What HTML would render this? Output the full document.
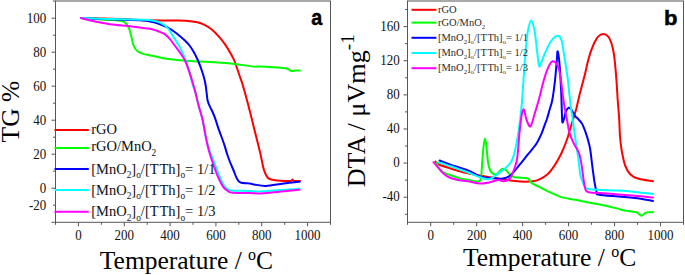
<!DOCTYPE html>
<html><head><meta charset="utf-8"><style>
html,body{margin:0;padding:0;background:#fff;}
svg{display:block;}
</style></head><body>
<svg width="685" height="275" viewBox="0 0 685 275">
<rect width="685" height="275" fill="#fff"/>
<rect x="55.5" y="1.0" width="275.0" height="221.3" fill="none" stroke="#555555" stroke-width="1"/>
<line x1="55.5" y1="222.3" x2="55.5" y2="224.8" stroke="#555555" stroke-width="1"/>
<line x1="78.42" y1="222.3" x2="78.42" y2="226.3" stroke="#555555" stroke-width="1"/>
<line x1="101.337" y1="222.3" x2="101.337" y2="224.8" stroke="#555555" stroke-width="1"/>
<line x1="124.254" y1="222.3" x2="124.254" y2="226.3" stroke="#555555" stroke-width="1"/>
<line x1="147.171" y1="222.3" x2="147.171" y2="224.8" stroke="#555555" stroke-width="1"/>
<line x1="170.08800000000002" y1="222.3" x2="170.08800000000002" y2="226.3" stroke="#555555" stroke-width="1"/>
<line x1="193.005" y1="222.3" x2="193.005" y2="224.8" stroke="#555555" stroke-width="1"/>
<line x1="215.92200000000003" y1="222.3" x2="215.92200000000003" y2="226.3" stroke="#555555" stroke-width="1"/>
<line x1="238.839" y1="222.3" x2="238.839" y2="224.8" stroke="#555555" stroke-width="1"/>
<line x1="261.75600000000003" y1="222.3" x2="261.75600000000003" y2="226.3" stroke="#555555" stroke-width="1"/>
<line x1="284.673" y1="222.3" x2="284.673" y2="224.8" stroke="#555555" stroke-width="1"/>
<line x1="307.59000000000003" y1="222.3" x2="307.59000000000003" y2="226.3" stroke="#555555" stroke-width="1"/>
<line x1="330.5" y1="222.3" x2="330.5" y2="224.8" stroke="#555555" stroke-width="1"/>
<line x1="51.5" y1="18.2" x2="55.5" y2="18.2" stroke="#555555" stroke-width="1"/>
<line x1="51.5" y1="52.2" x2="55.5" y2="52.2" stroke="#555555" stroke-width="1"/>
<line x1="51.5" y1="86.2" x2="55.5" y2="86.2" stroke="#555555" stroke-width="1"/>
<line x1="51.5" y1="120.2" x2="55.5" y2="120.2" stroke="#555555" stroke-width="1"/>
<line x1="51.5" y1="154.2" x2="55.5" y2="154.2" stroke="#555555" stroke-width="1"/>
<line x1="51.5" y1="188.2" x2="55.5" y2="188.2" stroke="#555555" stroke-width="1"/>
<line x1="51.5" y1="222.3" x2="55.5" y2="222.3" stroke="#555555" stroke-width="1"/>
<line x1="53.0" y1="1.0" x2="55.5" y2="1.0" stroke="#555555" stroke-width="1"/>
<line x1="53.0" y1="35.2" x2="55.5" y2="35.2" stroke="#555555" stroke-width="1"/>
<line x1="53.0" y1="69.2" x2="55.5" y2="69.2" stroke="#555555" stroke-width="1"/>
<line x1="53.0" y1="103.2" x2="55.5" y2="103.2" stroke="#555555" stroke-width="1"/>
<line x1="53.0" y1="137.2" x2="55.5" y2="137.2" stroke="#555555" stroke-width="1"/>
<line x1="53.0" y1="171.2" x2="55.5" y2="171.2" stroke="#555555" stroke-width="1"/>
<line x1="53.0" y1="205.2" x2="55.5" y2="205.2" stroke="#555555" stroke-width="1"/>
<rect x="407.5" y="1.0" width="276.0" height="221.3" fill="none" stroke="#555555" stroke-width="1"/>
<line x1="407.5" y1="222.3" x2="407.5" y2="224.8" stroke="#555555" stroke-width="1"/>
<line x1="430.7" y1="222.3" x2="430.7" y2="226.3" stroke="#555555" stroke-width="1"/>
<line x1="453.68" y1="222.3" x2="453.68" y2="224.8" stroke="#555555" stroke-width="1"/>
<line x1="476.65999999999997" y1="222.3" x2="476.65999999999997" y2="226.3" stroke="#555555" stroke-width="1"/>
<line x1="499.64" y1="222.3" x2="499.64" y2="224.8" stroke="#555555" stroke-width="1"/>
<line x1="522.62" y1="222.3" x2="522.62" y2="226.3" stroke="#555555" stroke-width="1"/>
<line x1="545.6" y1="222.3" x2="545.6" y2="224.8" stroke="#555555" stroke-width="1"/>
<line x1="568.5799999999999" y1="222.3" x2="568.5799999999999" y2="226.3" stroke="#555555" stroke-width="1"/>
<line x1="591.56" y1="222.3" x2="591.56" y2="224.8" stroke="#555555" stroke-width="1"/>
<line x1="614.54" y1="222.3" x2="614.54" y2="226.3" stroke="#555555" stroke-width="1"/>
<line x1="637.52" y1="222.3" x2="637.52" y2="224.8" stroke="#555555" stroke-width="1"/>
<line x1="660.5" y1="222.3" x2="660.5" y2="226.3" stroke="#555555" stroke-width="1"/>
<line x1="683.5" y1="222.3" x2="683.5" y2="224.8" stroke="#555555" stroke-width="1"/>
<line x1="403.5" y1="26.620000000000005" x2="407.5" y2="26.620000000000005" stroke="#555555" stroke-width="1"/>
<line x1="403.5" y1="60.739999999999995" x2="407.5" y2="60.739999999999995" stroke="#555555" stroke-width="1"/>
<line x1="403.5" y1="94.86" x2="407.5" y2="94.86" stroke="#555555" stroke-width="1"/>
<line x1="403.5" y1="128.98" x2="407.5" y2="128.98" stroke="#555555" stroke-width="1"/>
<line x1="403.5" y1="163.1" x2="407.5" y2="163.1" stroke="#555555" stroke-width="1"/>
<line x1="403.5" y1="197.22" x2="407.5" y2="197.22" stroke="#555555" stroke-width="1"/>
<line x1="405.0" y1="9.560000000000002" x2="407.5" y2="9.560000000000002" stroke="#555555" stroke-width="1"/>
<line x1="405.0" y1="43.67999999999999" x2="407.5" y2="43.67999999999999" stroke="#555555" stroke-width="1"/>
<line x1="405.0" y1="77.8" x2="407.5" y2="77.8" stroke="#555555" stroke-width="1"/>
<line x1="405.0" y1="111.91999999999999" x2="407.5" y2="111.91999999999999" stroke="#555555" stroke-width="1"/>
<line x1="405.0" y1="146.04" x2="407.5" y2="146.04" stroke="#555555" stroke-width="1"/>
<line x1="405.0" y1="180.16" x2="407.5" y2="180.16" stroke="#555555" stroke-width="1"/>
<line x1="405.0" y1="214.28" x2="407.5" y2="214.28" stroke="#555555" stroke-width="1"/>
<g font-family="Liberation Serif, serif" font-size="13" fill="#111"><text transform="translate(46.3,22.8) scale(1,1.1)" text-anchor="end">100</text>
<text transform="translate(46.3,56.8) scale(1,1.1)" text-anchor="end">80</text>
<text transform="translate(46.3,90.8) scale(1,1.1)" text-anchor="end">60</text>
<text transform="translate(46.3,124.8) scale(1,1.1)" text-anchor="end">40</text>
<text transform="translate(46.3,158.8) scale(1,1.1)" text-anchor="end">20</text>
<text transform="translate(46.3,192.8) scale(1,1.1)" text-anchor="end">0</text>
<text transform="translate(46.3,209.8) scale(1,1.1)" text-anchor="end">-20</text>
<text transform="translate(78.4,240.2) scale(1,1.1)" text-anchor="middle">0</text>
<text transform="translate(124.3,240.2) scale(1,1.1)" text-anchor="middle">200</text>
<text transform="translate(170.1,240.2) scale(1,1.1)" text-anchor="middle">400</text>
<text transform="translate(215.9,240.2) scale(1,1.1)" text-anchor="middle">600</text>
<text transform="translate(261.8,240.2) scale(1,1.1)" text-anchor="middle">800</text>
<text transform="translate(307.6,240.2) scale(1,1.1)" text-anchor="middle">1000</text>
<text transform="translate(399.8,30.7) scale(1,1.1)" text-anchor="end">160</text>
<text transform="translate(399.8,64.8) scale(1,1.1)" text-anchor="end">120</text>
<text transform="translate(399.8,99.0) scale(1,1.1)" text-anchor="end">80</text>
<text transform="translate(399.8,133.1) scale(1,1.1)" text-anchor="end">40</text>
<text transform="translate(399.8,167.2) scale(1,1.1)" text-anchor="end">0</text>
<text transform="translate(399.8,201.3) scale(1,1.1)" text-anchor="end">-40</text>
<text transform="translate(430.7,240.2) scale(1,1.1)" text-anchor="middle">0</text>
<text transform="translate(476.7,240.2) scale(1,1.1)" text-anchor="middle">200</text>
<text transform="translate(522.6,240.2) scale(1,1.1)" text-anchor="middle">400</text>
<text transform="translate(568.6,240.2) scale(1,1.1)" text-anchor="middle">600</text>
<text transform="translate(614.5,240.2) scale(1,1.1)" text-anchor="middle">800</text>
<text transform="translate(660.5,240.2) scale(1,1.1)" text-anchor="middle">1000</text></g>
<path d="M81.00,18.00 C87.50,18.17 108.50,18.62 120.00,19.00 C131.50,19.38 140.83,20.05 150.00,20.30 C159.17,20.55 169.00,20.42 175.00,20.50 C181.00,20.58 182.28,20.50 186.00,20.80 C189.72,21.10 194.22,21.62 197.30,22.30 C200.38,22.98 202.08,23.70 204.50,24.90 C206.92,26.10 209.37,27.52 211.80,29.50 C214.23,31.48 216.92,34.37 219.10,36.80 C221.28,39.23 222.95,41.28 224.90,44.10 C226.85,46.92 229.20,50.88 230.80,53.70 C232.40,56.52 233.05,57.37 234.50,61.00 C235.95,64.63 238.17,71.62 239.50,75.50 C240.83,79.38 241.08,79.55 242.50,84.30 C243.92,89.05 246.08,96.72 248.00,104.00 C249.92,111.28 252.00,120.00 254.00,128.00 C256.00,136.00 258.33,145.00 260.00,152.00 C261.67,159.00 262.67,165.67 264.00,170.00 C265.33,174.33 266.33,176.33 268.00,178.00 C269.67,179.67 272.00,179.53 274.00,180.00 C276.00,180.47 277.25,180.63 280.00,180.80 C282.75,180.97 288.43,181.20 290.50,181.00 C292.57,180.80 291.82,179.60 292.40,179.60 C292.98,179.60 292.73,180.77 294.00,181.00 C295.27,181.23 299.00,181.00 300.00,181.00" fill="none" stroke="#ff0000" stroke-width="2.0" stroke-linejoin="round" stroke-linecap="round"/>
<path d="M81.00,18.00 C84.17,18.23 94.33,19.02 100.00,19.40 C105.67,19.78 111.50,20.07 115.00,20.30 C118.50,20.53 119.42,20.48 121.00,20.80 C122.58,21.12 123.45,21.50 124.50,22.20 C125.55,22.90 126.48,23.78 127.30,25.00 C128.12,26.22 128.72,27.53 129.40,29.50 C130.08,31.47 130.77,34.30 131.40,36.80 C132.03,39.30 132.52,42.47 133.20,44.50 C133.88,46.53 134.62,47.78 135.50,49.00 C136.38,50.22 137.07,50.95 138.50,51.80 C139.93,52.65 141.58,53.40 144.10,54.10 C146.62,54.80 150.12,55.25 153.60,56.00 C157.08,56.75 161.43,57.97 165.00,58.60 C168.57,59.23 171.00,59.40 175.00,59.80 C179.00,60.20 182.33,60.58 189.00,61.00 C195.67,61.42 207.38,61.82 215.00,62.30 C222.62,62.78 228.03,63.17 234.70,63.90 C241.37,64.63 250.93,66.25 255.00,66.70 C259.07,67.15 254.53,66.38 259.10,66.60 C263.67,66.82 277.58,67.60 282.40,68.00 C287.22,68.40 286.55,68.50 288.00,69.00 C289.45,69.50 289.93,70.73 291.10,71.00 C292.27,71.27 293.55,70.70 295.00,70.60 C296.45,70.50 299.00,70.43 299.80,70.40" fill="none" stroke="#00ff00" stroke-width="2.0" stroke-linejoin="round" stroke-linecap="round"/>
<path d="M81.00,18.00 C85.83,18.22 99.72,18.90 110.00,19.30 C120.28,19.70 136.03,20.03 142.70,20.40 C149.37,20.77 147.33,20.95 150.00,21.50 C152.67,22.05 155.78,22.72 158.70,23.70 C161.62,24.68 165.07,26.18 167.50,27.40 C169.93,28.62 171.37,29.67 173.30,31.00 C175.23,32.33 177.17,33.82 179.10,35.40 C181.03,36.98 183.17,38.82 184.90,40.50 C186.63,42.18 188.00,43.53 189.50,45.50 C191.00,47.47 192.57,49.97 193.90,52.30 C195.23,54.63 196.40,57.08 197.50,59.50 C198.60,61.92 199.52,64.13 200.50,66.80 C201.48,69.47 202.57,72.58 203.40,75.50 C204.23,78.42 204.93,81.13 205.50,84.30 C206.07,87.47 206.45,91.82 206.80,94.50 C207.15,97.18 207.12,98.45 207.60,100.40 C208.08,102.35 208.87,104.27 209.70,106.20 C210.53,108.13 211.63,109.82 212.60,112.00 C213.57,114.18 214.55,116.62 215.50,119.30 C216.45,121.98 216.87,123.97 218.30,128.10 C219.73,132.23 222.62,139.73 224.10,144.10 C225.58,148.47 226.28,151.48 227.20,154.30 C228.12,157.12 228.57,158.38 229.60,161.00 C230.63,163.62 232.18,167.08 233.40,170.00 C234.62,172.92 235.72,176.42 236.90,178.50 C238.08,180.58 238.32,181.65 240.50,182.50 C242.68,183.35 247.75,183.28 250.00,183.60 C252.25,183.92 251.33,184.00 254.00,184.40 C256.67,184.80 261.07,186.17 266.00,186.00 C270.93,185.83 278.00,184.12 283.60,183.40 C289.20,182.68 296.93,181.98 299.60,181.70" fill="none" stroke="#0000ff" stroke-width="2.0" stroke-linejoin="round" stroke-linecap="round"/>
<path d="M81.00,18.00 C85.83,18.17 99.72,18.72 110.00,19.00 C120.28,19.28 136.03,19.52 142.70,19.70 C149.37,19.88 147.57,19.80 150.00,20.10 C152.43,20.40 154.88,20.65 157.30,21.50 C159.72,22.35 162.57,23.87 164.50,25.20 C166.43,26.53 167.43,27.57 168.90,29.50 C170.37,31.43 171.68,34.22 173.30,36.80 C174.92,39.38 177.10,42.42 178.60,45.00 C180.10,47.58 181.08,49.63 182.30,52.30 C183.52,54.97 184.70,57.85 185.90,61.00 C187.10,64.15 188.40,67.32 189.50,71.20 C190.60,75.08 191.55,80.90 192.50,84.30 C193.45,87.70 194.15,87.95 195.20,91.60 C196.25,95.25 197.58,101.58 198.80,106.20 C200.02,110.82 201.43,114.68 202.50,119.30 C203.57,123.92 204.03,128.70 205.20,133.90 C206.37,139.10 208.10,146.00 209.50,150.50 C210.90,155.00 212.00,156.73 213.60,160.90 C215.20,165.07 217.28,171.25 219.10,175.50 C220.92,179.75 222.83,183.98 224.50,186.40 C226.17,188.82 227.18,189.28 229.10,190.00 C231.02,190.72 232.52,190.55 236.00,190.70 C239.48,190.85 245.45,190.80 250.00,190.90 C254.55,191.00 255.03,191.67 263.30,191.30 C271.57,190.93 293.55,189.13 299.60,188.70" fill="none" stroke="#00ffff" stroke-width="2.0" stroke-linejoin="round" stroke-linecap="round"/>
<path d="M81.00,18.00 C83.33,18.58 90.17,20.47 95.00,21.50 C99.83,22.53 103.87,23.38 110.00,24.20 C116.13,25.02 125.13,25.63 131.80,26.40 C138.47,27.17 145.75,28.03 150.00,28.80 C154.25,29.57 154.88,30.15 157.30,31.00 C159.72,31.85 162.32,32.45 164.50,33.90 C166.68,35.35 168.65,37.68 170.40,39.70 C172.15,41.72 173.27,43.67 175.00,46.00 C176.73,48.33 179.10,51.20 180.80,53.70 C182.50,56.20 183.75,57.85 185.20,61.00 C186.65,64.15 188.17,68.72 189.50,72.60 C190.83,76.48 192.25,81.13 193.20,84.30 C194.15,87.47 194.27,87.95 195.20,91.60 C196.13,95.25 197.58,101.58 198.80,106.20 C200.02,110.82 201.43,114.68 202.50,119.30 C203.57,123.92 204.25,129.12 205.20,133.90 C206.15,138.68 206.95,143.20 208.20,148.00 C209.45,152.80 211.03,157.82 212.70,162.70 C214.37,167.58 216.38,173.20 218.20,177.30 C220.02,181.40 221.78,184.88 223.60,187.30 C225.42,189.72 227.58,190.90 229.10,191.80 C230.62,192.70 229.22,192.48 232.70,192.70 C236.18,192.92 244.90,193.00 250.00,193.10 C255.10,193.20 255.03,193.85 263.30,193.30 C271.57,192.75 293.55,190.38 299.60,189.80" fill="none" stroke="#ff00ff" stroke-width="2.0" stroke-linejoin="round" stroke-linecap="round"/>
<path d="M435.50,161.50 C436.07,162.00 436.52,163.38 438.90,164.50 C441.28,165.62 446.03,166.98 449.80,168.20 C453.57,169.42 458.47,170.95 461.50,171.80 C464.53,172.65 464.92,172.68 468.00,173.30 C471.08,173.92 476.18,174.83 480.00,175.50 C483.82,176.17 486.35,176.55 490.90,177.30 C495.45,178.05 502.45,179.30 507.30,180.00 C512.15,180.70 515.77,181.28 520.00,181.50 C524.23,181.72 529.37,181.70 532.70,181.30 C536.03,180.90 537.57,180.23 540.00,179.10 C542.43,177.97 545.18,176.32 547.30,174.50 C549.42,172.68 551.03,170.47 552.70,168.20 C554.37,165.93 555.78,163.52 557.30,160.90 C558.82,158.28 560.22,155.98 561.80,152.50 C563.38,149.02 565.48,143.67 566.80,140.00 C568.12,136.33 568.48,134.50 569.70,130.50 C570.92,126.50 572.97,119.75 574.10,116.00 C575.23,112.25 575.52,111.83 576.50,108.00 C577.48,104.17 578.58,98.67 580.00,93.00 C581.42,87.33 583.80,78.78 585.00,74.00 C586.20,69.22 586.52,67.13 587.20,64.30 C587.88,61.47 588.38,59.43 589.10,57.00 C589.82,54.57 590.60,52.12 591.50,49.70 C592.40,47.28 593.40,44.68 594.50,42.50 C595.60,40.32 596.65,38.02 598.10,36.60 C599.55,35.18 601.50,34.00 603.20,34.00 C604.90,34.00 606.97,35.18 608.30,36.60 C609.63,38.02 610.35,40.07 611.20,42.50 C612.05,44.93 612.80,48.05 613.40,51.20 C614.00,54.35 614.28,56.45 614.80,61.40 C615.32,66.35 616.02,74.47 616.50,80.90 C616.98,87.33 617.25,93.72 617.70,100.00 C618.15,106.28 618.83,112.77 619.20,118.60 C619.57,124.43 619.50,129.77 619.90,135.00 C620.30,140.23 620.73,144.95 621.60,150.00 C622.47,155.05 623.67,161.27 625.10,165.30 C626.53,169.33 628.08,172.00 630.20,174.20 C632.32,176.40 634.00,177.32 637.80,178.50 C641.60,179.68 650.47,180.83 653.00,181.30" fill="none" stroke="#ff0000" stroke-width="2.0" stroke-linejoin="round" stroke-linecap="round"/>
<path d="M437.00,162.40 C437.20,163.25 437.28,165.93 438.20,167.50 C439.12,169.07 440.32,170.47 442.50,171.80 C444.68,173.13 448.38,174.40 451.30,175.50 C454.22,176.60 457.22,177.68 460.00,178.40 C462.78,179.12 465.03,179.30 468.00,179.80 C470.97,180.30 475.73,181.37 477.80,181.40 C479.87,181.43 479.80,181.23 480.40,180.00 C481.00,178.77 481.07,177.33 481.40,174.00 C481.73,170.67 482.03,164.67 482.40,160.00 C482.77,155.33 483.17,149.60 483.60,146.00 C484.03,142.40 484.53,138.40 485.00,138.40 C485.47,138.40 485.90,142.07 486.40,146.00 C486.90,149.93 487.40,158.00 488.00,162.00 C488.60,166.00 489.17,168.07 490.00,170.00 C490.83,171.93 491.93,172.85 493.00,173.60 C494.07,174.35 494.93,175.25 496.40,174.50 C497.87,173.75 500.28,169.92 501.80,169.10 C503.32,168.28 504.30,168.85 505.50,169.60 C506.70,170.35 507.50,172.32 509.00,173.60 C510.50,174.88 511.45,176.53 514.50,177.30 C517.55,178.07 524.45,177.25 527.30,178.20 C530.15,179.15 529.90,181.70 531.60,183.00 C533.30,184.30 534.58,184.53 537.50,186.00 C540.42,187.47 545.23,189.98 549.10,191.80 C552.97,193.62 556.33,195.57 560.70,196.90 C565.07,198.23 570.45,198.83 575.30,199.80 C580.15,200.77 585.68,201.90 589.80,202.70 C593.92,203.50 595.20,203.57 600.00,204.60 C604.80,205.63 614.93,208.00 618.60,208.90 C622.27,209.80 619.60,209.52 622.00,210.00 C624.40,210.48 630.42,211.33 633.00,211.80 C635.58,212.27 636.08,212.13 637.50,212.80 C638.92,213.47 640.25,215.73 641.50,215.80 C642.75,215.87 643.92,213.80 645.00,213.20 C646.08,212.60 646.67,212.37 648.00,212.20 C649.33,212.03 652.17,212.20 653.00,212.20" fill="none" stroke="#00ff00" stroke-width="2.0" stroke-linejoin="round" stroke-linecap="round"/>
<path d="M439.60,160.50 C441.30,161.17 445.07,162.85 449.80,164.50 C454.53,166.15 462.97,168.42 468.00,170.40 C473.03,172.38 476.18,175.10 480.00,176.40 C483.82,177.70 487.27,177.82 490.90,178.20 C494.53,178.58 498.62,179.12 501.80,178.70 C504.98,178.28 507.18,177.83 510.00,175.70 C512.82,173.57 515.78,169.37 518.70,165.90 C521.62,162.43 524.58,158.55 527.50,154.90 C530.42,151.25 533.83,147.63 536.20,144.00 C538.57,140.37 540.25,136.37 541.70,133.10 C543.15,129.83 544.00,126.83 544.90,124.40 C545.80,121.97 546.33,120.90 547.10,118.50 C547.87,116.10 548.63,113.08 549.50,110.00 C550.37,106.92 551.38,104.92 552.30,100.00 C553.22,95.08 554.25,87.08 555.00,80.50 C555.75,73.92 556.35,65.37 556.80,60.50 C557.25,55.63 557.22,50.35 557.70,51.30 C558.18,52.25 559.12,59.35 559.70,66.20 C560.28,73.05 560.83,84.57 561.20,92.40 C561.57,100.23 561.70,108.22 561.90,113.20 C562.10,118.18 562.03,121.40 562.40,122.30 C562.77,123.20 563.52,120.42 564.10,118.60 C564.68,116.78 565.15,113.22 565.90,111.40 C566.65,109.58 567.68,108.02 568.60,107.70 C569.52,107.38 570.33,108.13 571.40,109.50 C572.47,110.87 573.80,114.23 575.00,115.90 C576.20,117.57 577.38,118.13 578.60,119.50 C579.82,120.87 581.08,121.82 582.30,124.10 C583.52,126.38 584.85,130.17 585.90,133.20 C586.95,136.23 587.87,139.50 588.60,142.30 C589.33,145.10 589.65,145.80 590.30,150.00 C590.95,154.20 591.78,162.05 592.50,167.50 C593.22,172.95 593.88,178.53 594.60,182.70 C595.32,186.87 596.07,190.50 596.80,192.50 C597.53,194.50 595.37,194.03 599.00,194.70 C602.63,195.37 612.60,195.95 618.60,196.50 C624.60,197.05 629.27,197.27 635.00,198.00 C640.73,198.73 650.00,200.42 653.00,200.90" fill="none" stroke="#0000ff" stroke-width="2.0" stroke-linejoin="round" stroke-linecap="round"/>
<path d="M438.90,162.40 C440.72,163.00 444.95,164.32 449.80,166.00 C454.65,167.68 462.97,170.62 468.00,172.50 C473.03,174.38 476.48,176.20 480.00,177.30 C483.52,178.40 486.07,179.72 489.10,179.10 C492.13,178.48 495.17,175.72 498.20,173.60 C501.23,171.48 505.00,168.63 507.30,166.40 C509.60,164.17 510.67,163.05 512.00,160.20 C513.33,157.35 514.22,154.03 515.30,149.30 C516.38,144.57 517.67,137.02 518.50,131.80 C519.33,126.58 519.75,122.70 520.30,118.00 C520.85,113.30 521.28,109.63 521.80,103.60 C522.32,97.57 522.93,88.40 523.40,81.80 C523.87,75.20 524.20,69.67 524.60,64.00 C525.00,58.33 525.23,53.42 525.80,47.80 C526.37,42.18 527.10,34.85 528.00,30.30 C528.90,25.75 530.12,20.50 531.20,20.50 C532.28,20.50 533.58,25.75 534.50,30.30 C535.42,34.85 535.97,41.97 536.70,47.80 C537.43,53.63 538.27,62.52 538.90,65.30 C539.53,68.08 539.48,66.55 540.50,64.50 C541.52,62.45 543.27,56.83 545.00,53.00 C546.73,49.17 548.82,44.37 550.90,41.50 C552.98,38.63 555.73,36.05 557.50,35.80 C559.27,35.55 560.40,36.80 561.50,40.00 C562.60,43.20 563.07,48.57 564.10,55.00 C565.13,61.43 566.63,70.42 567.70,78.60 C568.77,86.78 569.68,97.38 570.50,104.10 C571.32,110.82 571.77,112.92 572.60,118.90 C573.43,124.88 574.57,133.53 575.50,140.00 C576.43,146.47 577.38,151.83 578.20,157.70 C579.02,163.57 579.67,171.23 580.40,175.20 C581.13,179.17 581.68,179.33 582.60,181.50 C583.52,183.67 583.53,186.83 585.90,188.20 C588.27,189.57 591.35,189.30 596.80,189.70 C602.25,190.10 612.23,190.23 618.60,190.60 C624.97,190.97 629.27,191.33 635.00,191.90 C640.73,192.47 650.00,193.65 653.00,194.00" fill="none" stroke="#00ffff" stroke-width="2.0" stroke-linejoin="round" stroke-linecap="round"/>
<path d="M433.50,162.30 C433.92,162.75 435.08,163.98 436.00,165.00 C436.92,166.02 437.92,167.15 439.00,168.40 C440.08,169.65 440.93,171.07 442.50,172.50 C444.07,173.93 445.97,175.78 448.40,177.00 C450.83,178.22 453.83,179.08 457.10,179.80 C460.37,180.52 464.18,180.67 468.00,181.30 C471.82,181.93 476.48,183.42 480.00,183.60 C483.52,183.78 486.07,183.00 489.10,182.40 C492.13,181.80 495.78,180.18 498.20,180.00 C500.62,179.82 501.63,181.60 503.60,181.30 C505.57,181.00 508.18,180.38 510.00,178.20 C511.82,176.02 513.28,171.68 514.50,168.20 C515.72,164.72 516.45,163.37 517.30,157.30 C518.15,151.23 518.85,138.95 519.60,131.80 C520.35,124.65 521.07,118.12 521.80,114.40 C522.53,110.68 523.27,108.78 524.00,109.50 C524.73,110.22 525.13,115.88 526.20,118.70 C527.27,121.52 528.97,127.30 530.40,126.40 C531.83,125.50 533.35,117.92 534.80,113.30 C536.25,108.68 537.65,104.05 539.10,98.70 C540.55,93.35 542.03,86.30 543.50,81.20 C544.97,76.10 546.43,71.40 547.90,68.10 C549.37,64.80 550.67,61.77 552.30,61.40 C553.93,61.03 556.33,63.33 557.70,65.90 C559.07,68.47 559.73,72.55 560.50,76.80 C561.27,81.05 561.70,86.85 562.30,91.40 C562.90,95.95 563.35,99.52 564.10,104.10 C564.85,108.68 565.87,114.00 566.80,118.90 C567.73,123.80 568.53,129.40 569.70,133.50 C570.87,137.60 572.25,140.25 573.80,143.50 C575.35,146.75 577.72,149.53 579.00,153.00 C580.28,156.47 580.72,159.72 581.50,164.30 C582.28,168.88 582.97,176.15 583.70,180.50 C584.43,184.85 584.80,188.40 585.90,190.40 C587.00,192.40 586.67,191.97 590.30,192.50 C593.93,193.03 600.25,193.05 607.70,193.60 C615.15,194.15 627.45,195.15 635.00,195.80 C642.55,196.45 650.00,197.22 653.00,197.50" fill="none" stroke="#ff00ff" stroke-width="2.0" stroke-linejoin="round" stroke-linecap="round"/>
<line x1="54.5" y1="130" x2="88.8" y2="130" stroke="#ff0000" stroke-width="2"/>
<text x="91.2" y="134.0" font-family="Liberation Serif, serif" font-size="14.5" fill="#111">rGO</text>
<line x1="54.5" y1="148" x2="88.8" y2="148" stroke="#00ff00" stroke-width="2"/>
<text x="91.2" y="151.3" font-family="Liberation Serif, serif" font-size="14.5" fill="#111">rGO/MnO<tspan font-size="9.4" dy="4.3">2</tspan></text>
<line x1="54.5" y1="169" x2="88.8" y2="169" stroke="#0000ff" stroke-width="2"/>
<text x="91.2" y="173.6" font-family="Liberation Serif, serif" font-size="14.5" fill="#111">[MnO<tspan font-size="9.4" dy="4.3">2</tspan><tspan dy="-4.3">]</tspan><tspan font-size="9.4" dy="4.3">o</tspan><tspan dy="-4.3">/[T</tspan><tspan dx="0.87">Th]</tspan><tspan font-size="9.4" dy="4.3">o</tspan><tspan dy="-4.3">= 1/1</tspan></text>
<line x1="54.5" y1="190" x2="88.8" y2="190" stroke="#00ffff" stroke-width="2"/>
<text x="91.2" y="194.9" font-family="Liberation Serif, serif" font-size="14.5" fill="#111">[MnO<tspan font-size="9.4" dy="4.3">2</tspan><tspan dy="-4.3">]</tspan><tspan font-size="9.4" dy="4.3">o</tspan><tspan dy="-4.3">/[T</tspan><tspan dx="0.87">Th]</tspan><tspan font-size="9.4" dy="4.3">o</tspan><tspan dy="-4.3">= 1/2</tspan></text>
<line x1="54.5" y1="211.8" x2="88.8" y2="211.8" stroke="#ff00ff" stroke-width="2"/>
<text x="91.2" y="216.2" font-family="Liberation Serif, serif" font-size="14.5" fill="#111">[MnO<tspan font-size="9.4" dy="4.3">2</tspan><tspan dy="-4.3">]</tspan><tspan font-size="9.4" dy="4.3">o</tspan><tspan dy="-4.3">/[T</tspan><tspan dx="0.87">Th]</tspan><tspan font-size="9.4" dy="4.3">o</tspan><tspan dy="-4.3">= 1/3</tspan></text>
<line x1="411.5" y1="9.8" x2="436.4" y2="9.8" stroke="#ff0000" stroke-width="2"/>
<text x="438.0" y="13.3" font-family="Liberation Serif, serif" font-size="10.5" fill="#2a2a2a">rGO</text>
<line x1="411.5" y1="22.6" x2="436.4" y2="22.6" stroke="#00ff00" stroke-width="2"/>
<text x="438.0" y="25.9" font-family="Liberation Serif, serif" font-size="10.5" fill="#2a2a2a">rGO/MnO<tspan font-size="6.8" dy="3.1">2</tspan></text>
<line x1="411.5" y1="37.8" x2="436.4" y2="37.8" stroke="#0000ff" stroke-width="2"/>
<text x="438.0" y="41.3" font-family="Liberation Serif, serif" font-size="10.5" fill="#2a2a2a">[MnO<tspan font-size="6.8" dy="3.1">2</tspan><tspan dy="-3.1">]</tspan><tspan font-size="6.8" dy="3.1">o</tspan><tspan dy="-3.1">/[T</tspan><tspan dx="0.63">Th]</tspan><tspan font-size="6.8" dy="3.1">o</tspan><tspan dy="-3.1">= 1/1</tspan></text>
<line x1="411.5" y1="53.0" x2="436.4" y2="53.0" stroke="#00ffff" stroke-width="2"/>
<text x="438.0" y="56.3" font-family="Liberation Serif, serif" font-size="10.5" fill="#2a2a2a">[MnO<tspan font-size="6.8" dy="3.1">2</tspan><tspan dy="-3.1">]</tspan><tspan font-size="6.8" dy="3.1">o</tspan><tspan dy="-3.1">/[T</tspan><tspan dx="0.63">Th]</tspan><tspan font-size="6.8" dy="3.1">o</tspan><tspan dy="-3.1">= 1/2</tspan></text>
<line x1="411.5" y1="68.2" x2="436.4" y2="68.2" stroke="#ff00ff" stroke-width="2"/>
<text x="438.0" y="70.8" font-family="Liberation Serif, serif" font-size="10.5" fill="#2a2a2a">[MnO<tspan font-size="6.8" dy="3.1">2</tspan><tspan dy="-3.1">]</tspan><tspan font-size="6.8" dy="3.1">o</tspan><tspan dy="-3.1">/[T</tspan><tspan dx="0.63">Th]</tspan><tspan font-size="6.8" dy="3.1">o</tspan><tspan dy="-3.1">= 1/3</tspan></text>
<text x="99.8" y="268.6" font-family="Liberation Serif, serif" fill="#000" font-size="25.5">Temperature / <tspan font-size="16" dy="-9">o</tspan><tspan dy="9">C</tspan></text>
<text x="462.9" y="266.2" font-family="Liberation Serif, serif" fill="#000" font-size="25.5">Temperature / <tspan font-size="16" dy="-9">o</tspan><tspan dy="9">C</tspan></text>
<text transform="translate(19.1,111.6) rotate(-90)" text-anchor="middle" font-family="Liberation Serif, serif" fill="#000" font-size="25.5">TG %</text>
<text transform="translate(365,187.3) rotate(-90) scale(1.008,1)" font-family="Liberation Serif, serif" fill="#000" font-size="26">DTA / μVmg<tspan font-size="19" dy="-10.6">-1</tspan></text>
<text transform="translate(311.3,25) scale(0.86,0.985)" font-family="Liberation Sans, sans-serif" font-weight="bold" font-size="23" fill="#000" stroke="#000" stroke-width="0.5">a</text>
<text transform="translate(664.1,25) scale(0.96,0.876)" font-family="Liberation Sans, sans-serif" font-weight="bold" font-size="23" fill="#000" stroke="#000" stroke-width="0.5">b</text>
</svg>
</body></html>
